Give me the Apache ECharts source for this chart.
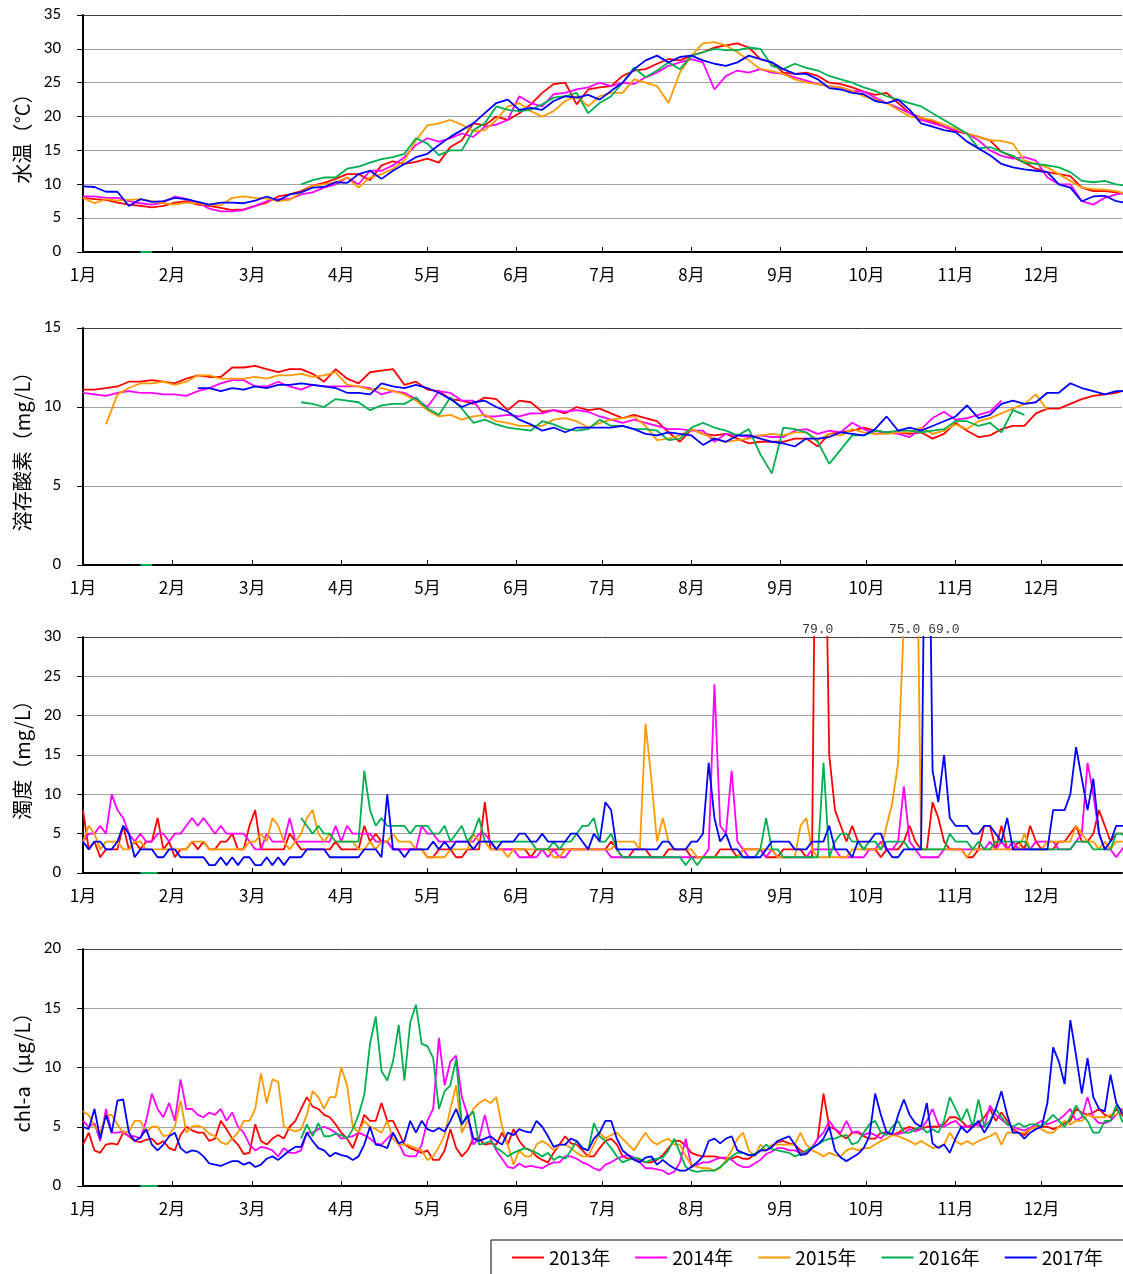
<!DOCTYPE html>
<html>
<head>
<meta charset="utf-8">
<script src="https://cdn.jsdelivr.net/npm/echarts@6/dist/echarts.min.js"></script>
<style>
html,body{margin:0;padding:0;background:#fff;}
#chart{width:1123px;height:1274px;}
</style>
</head>
<body>
<div id="chart"></div>
<script>
// ---- categories / ticks ----
const yearNames = ['2013年', '2014年', '2015年', '2016年', '2017年'];
const monthStartDays = [0, 31, 59, 90, 120, 151, 181, 212, 243, 273, 304, 334];
const monthLabels = ['1月', '2月', '3月', '4月', '5月', '6月', '7月', '8月', '9月', '10月', '11月', '12月'];

// day spacing of the samples in each table (day of year = index * step)
const tempStepDays = 4;
const doStepDays = 4;
const turbStepDays = 2;
const chlStepDays = 2;

// ---- 水温 (°C), every 4 days ----
const wt2013 = [8.0,7.8,7.7,7.3,7.0,6.8,6.6,6.8,7.3,7.5,7.0,6.8,6.5,6.2,6.3,6.8,
  7.3,8.2,8.5,9.0,9.8,10.2,10.8,11.5,11.5,10.6,12.8,13.4,13.0,13.3,13.8,13.2,
  15.5,16.5,19.0,18.7,20.0,19.5,20.5,21.8,23.5,24.8,25.0,21.8,24.0,24.3,24.5,26.0,
  26.8,27.0,27.8,28.5,28.3,29.0,29.5,30.2,30.5,30.8,30.2,28.5,28.0,26.5,26.3,26.5,
  26.0,25.0,24.8,24.3,23.7,23.2,23.5,22.0,20.5,19.8,19.3,18.5,17.8,17.5,17.0,16.5,
  14.8,14.0,13.2,12.3,11.8,11.5,11.2,9.5,9.0,9.0,8.8,8.5];
const wt2014 = [8.2,8.2,8.0,8.0,7.5,7.2,7.0,7.3,8.2,7.8,7.3,6.4,6.0,6.0,6.2,6.8,
  7.5,7.8,7.8,8.5,8.8,9.5,10.0,11.0,10.0,12.0,12.0,12.8,14.0,15.8,16.8,16.3,
  16.8,17.5,17.0,18.5,18.8,19.5,23.0,22.0,21.5,23.3,23.5,24.0,24.3,25.0,24.5,25.0,
  24.8,25.8,26.5,27.5,28.0,28.5,28.0,24.0,26.0,26.8,26.5,27.0,26.5,26.3,25.8,25.3,
  24.8,24.5,24.3,23.8,23.7,22.8,22.0,21.3,20.5,19.5,19.0,18.5,18.0,17.5,16.5,15.0,
  14.2,13.8,14.0,13.5,11.0,10.0,10.0,7.5,7.0,8.0,8.5,8.8];
const wt2015 = [8.0,7.2,7.8,7.6,7.7,7.8,7.5,7.2,7.0,7.3,7.2,7.0,6.9,8.0,8.2,8.0,
  7.9,7.5,7.7,8.8,9.8,10.0,10.3,11.0,9.5,11.0,11.5,12.3,13.5,16.5,18.7,19.0,
  19.5,18.8,17.8,18.0,19.5,21.5,22.0,20.8,20.0,20.8,22.3,23.0,21.5,23.0,23.5,23.5,
  25.5,25.0,24.5,22.0,26.5,29.0,30.8,31.0,30.5,29.5,28.3,27.0,26.7,26.3,25.5,25.0,
  24.8,24.5,24.3,23.8,23.0,22.5,22.0,21.0,20.0,19.8,19.5,18.8,18.2,17.5,17.0,16.5,
  16.4,16.0,13.5,13.0,12.5,11.5,10.5,9.5,9.3,9.2,9.0,8.5];
const wt2016 = [null,null,null,null,null,0,0,
  null,null,null,null,null,null,null,null,null,null,null,null,
  10.0,10.6,11.0,11.0,12.3,12.6,13.2,13.7,14.0,14.5,16.8,16.0,14.3,
  15.0,15.0,18.0,19.0,21.5,21.0,20.8,21.0,21.8,22.8,23.0,23.5,20.5,22.0,23.0,25.0,
  27.2,25.8,26.8,28.0,27.0,29.0,29.5,30.0,29.8,29.8,30.2,30.0,27.5,27.0,27.8,27.2,
  26.8,26.0,25.5,25.0,24.3,23.8,23.0,22.5,22.0,21.5,20.5,19.5,18.5,17.5,15.3,15.5,
  14.8,14.2,13.2,13.0,12.8,12.5,11.8,10.5,10.3,10.5,10.0,9.8];
const wt2017 = [9.7,9.6,8.9,8.9,6.8,7.8,7.4,7.5,8.0,7.8,7.4,7.0,7.3,7.3,7.2,7.6,
  8.2,7.6,8.5,8.8,9.5,9.6,10.3,10.2,11.5,12.0,10.8,12.0,13.0,14.0,14.5,15.8,
  17.0,18.0,19.0,20.5,22.0,22.5,21.0,21.3,21.0,22.3,23.0,22.8,23.2,22.5,23.8,25.0,
  27.0,28.3,29.0,28.0,28.8,29.0,28.3,27.8,27.5,28.0,29.0,28.5,28.0,27.0,26.3,26.3,
  25.5,24.2,24.0,23.5,23.3,22.3,22.0,22.5,21.0,19.0,18.5,18.0,17.7,16.3,15.3,14.3,
  13.0,12.5,12.2,12.0,11.8,10.0,9.5,7.5,8.2,8.3,7.5,7.2];

// ---- 溶存酸素 (mg/L), every 4 days ----
const do2013 = [11.1,11.1,11.2,11.3,11.6,11.6,11.7,11.6,11.5,11.8,12.0,11.9,11.9,12.5,12.5,12.6,
  12.4,12.2,12.4,12.4,12.1,11.6,12.4,11.8,11.5,12.2,12.3,12.4,11.4,11.6,11.1,11.0,
  10.5,10.4,10.2,10.6,10.5,9.8,10.4,10.3,9.7,9.8,9.6,10.0,9.8,9.9,9.6,9.3,
  9.5,9.3,9.1,8.4,7.8,8.6,8.3,8.2,8.3,8.0,7.7,7.8,7.8,7.8,8.0,8.0,
  7.5,8.3,8.4,8.5,8.7,8.5,8.4,8.4,8.3,8.4,8.0,8.3,9.0,8.5,8.1,8.2,
  8.6,8.8,8.8,9.6,9.9,9.9,10.2,10.5,10.7,10.8,10.9,11.1];
const do2014 = [10.9,10.8,10.7,10.9,11.0,10.9,10.9,10.8,10.8,10.7,11.0,11.2,11.5,11.7,11.7,11.3,
  11.3,11.6,11.3,11.1,11.4,11.3,11.3,11.3,11.3,11.2,10.8,11.0,10.9,10.5,10.0,11.0,
  10.9,10.4,10.4,9.4,9.4,9.5,9.4,9.6,9.6,9.8,9.7,9.8,9.7,9.4,9.2,9.0,
  9.2,9.0,8.8,8.6,8.6,8.5,8.5,7.8,8.3,8.2,8.1,8.2,8.1,8.1,8.5,8.6,
  8.3,8.5,8.4,9.0,8.6,8.3,8.4,8.3,8.1,8.6,9.3,9.7,9.2,9.3,9.5,9.7,
  10.4,null,null,null,null,null,null,null,null,null,null,null];
const do2015 = [null,null,8.9,10.8,11.2,11.5,11.5,11.6,11.4,11.6,12.0,12.0,11.8,11.8,11.8,11.9,
  11.8,12.0,12.0,12.1,11.9,12.0,12.2,11.4,11.3,11.1,11.2,11.0,10.8,10.4,9.8,9.4,
  9.5,9.2,9.4,9.5,9.1,9.0,8.8,8.8,8.8,9.2,9.3,9.1,8.7,9.0,9.2,9.3,
  9.4,8.8,7.9,8.0,8.2,8.6,8.3,8.0,7.8,7.9,8.0,8.2,8.3,8.2,8.4,8.4,
  7.9,8.3,8.2,8.6,8.4,8.3,8.3,8.4,8.4,8.7,8.3,8.5,8.9,8.6,9.1,9.3,
  9.6,9.9,10.2,10.8,9.8,null,null,null,null,null,null,null];
const do2016 = [null,null,null,null,null,0,0,
  null,null,null,null,null,null,null,null,null,null,null,null,
  10.3,10.2,10.0,10.5,10.4,10.3,9.8,10.1,10.2,10.2,10.6,9.9,9.5,
  10.6,9.9,9.0,9.2,8.9,8.7,8.6,8.5,9.1,8.9,8.6,8.5,8.6,9.2,8.8,8.8,
  8.6,8.6,8.5,7.9,8.0,8.7,9.0,8.7,8.5,8.2,8.6,7.0,5.8,8.7,8.6,8.4,
  7.8,6.4,7.3,8.2,8.2,8.5,8.4,8.5,8.5,8.4,8.5,8.6,9.1,9.1,8.8,9.0,
  8.4,9.8,9.5,null,null,null,null,null,null,null,null,null];
const do2017 = [null,null,null,null,null,null,null,null,null,null,
  11.2,11.2,11.0,11.2,11.1,11.3,
  11.2,11.4,11.4,11.5,11.4,11.3,11.2,10.9,10.9,10.8,11.5,11.3,11.2,11.4,11.2,10.9,
  10.5,10.0,10.3,10.4,10.0,9.7,9.2,8.9,8.5,8.7,8.4,8.7,8.7,8.7,8.7,8.8,
  8.6,8.3,8.2,8.4,8.3,8.2,7.6,8.0,7.8,8.2,8.2,8.0,7.8,7.7,7.5,8.0,
  8.0,8.1,8.4,8.3,8.2,8.6,9.4,8.5,8.7,8.5,8.8,9.1,9.4,10.1,9.3,9.5,
  10.2,10.4,10.2,10.3,10.9,10.9,11.5,11.2,11.0,10.8,11.0,11.0];

// ---- 濁度 (mg/L), every 2 days ----
const tb2013 = [8,3,4,2,3,3,3,6,3,4, 3,4,4,7,3,4,2,3,3,4, 3,4,3,3,4,4,5,3,3,6,
  8,3,3,3,3,3,5,4,3,3, 3,3,3,3,4,3,3,3,3,6, 4,5,4,4,3,3,3,3,3,3,
  2,2,3,3,3,2,2,3,3,3, 9,3,3,3,3,3,3,3,2,3, 3,3,3,3,3,3,3,3,3,3,
  3,3,4,3,2,2,3,3,3,2, 2,2,3,3,3,3,2,2,2,2, 2,3,3,3,2,3,3,3,3,2,
  2,2,3,3,3,3,2,2,79,60, 15,8,6,4,6,4,3,3,3,2, 3,3,3,4,6,4,3,3,9,7,
  4,3,3,3,2,2,3,6,6,3, 6,3,3,4,3,6,4,3,3,3, 4,4,5,6,4,4,5,8,6,4, 5,5,5];
const tb2014 = [4,5,5,6,5,10,8,7,5,4, 5,4,4,5,5,4,5,5,6,7, 6,7,6,5,6,5,5,5,5,4,
  3,3,5,4,4,4,7,4,4,4, 4,4,4,4,6,4,6,5,5,5, 5,4,4,4,3,3,3,3,3,6,
  5,5,4,4,4,4,4,4,4,5, 5,4,3,3,3,3,2,2,2,2, 3,2,3,2,2,3,3,3,3,3,
  3,3,2,2,2,2,2,2,2,2, 2,2,2,2,2,2,2,2,2,3, 24,6,5,13,4,3,2,2,3,2,
  3,2,2,2,2,2,2,3,3,3, 3,3,2,2,2,2,2,3,3,4, 3,3,4,11,4,3,2,2,2,2,
  3,3,3,3,3,3,3,3,4,3, 4,3,4,3,3,3,4,4,4,4, 3,3,3,4,5,14,10,5,3,3, 2,3,4];
const tb2015 = [4,6,5,3,4,4,4,3,3,4, 4,3,3,3,3,3,3,3,3,4, 4,4,3,3,3,3,3,3,3,4,
  4,5,4,7,6,4,3,4,5,7, 8,5,4,5,4,4,4,4,3,3, 4,3,4,4,5,4,4,4,3,3,
  2,2,2,2,3,3,3,3,5,4, 4,3,3,3,2,3,3,3,3,3, 3,3,2,2,3,3,3,3,3,3,
  3,3,3,4,4,4,4,3,19,12, 4,7,4,3,3,3,3,2,2,2, 2,2,2,2,2,3,3,3,3,3,
  3,2,2,2,2,6,7,3,2,2, 2,2,2,2,3,3,3,3,3,3, 6,9,14,32,75,60,3,3,3,3,
  3,3,3,3,2,3,3,3,3,3, 3,3,3,3,5,3,3,3,4,4, 4,4,4,6,5,4,4,3,4,3, 4,4,4];
const tb2016 = [null,null,null,null,null,null,null,null,null,null,
  0,0,0,0,null,null,null,null,null,null,
  null,null,null,null,null,null,null,null,null,null,
  null,null,null,null,null,null,null,null,7,6,
  5,6,5,5,4,4,4,4,4,13, 8,6,7,6,6,6,6,5,6,6,
  6,5,5,6,4,5,6,4,5,7, 4,4,4,4,4,4,4,4,4,3, 3,3,4,3,4,4,5,6,6,7,
  4,4,5,3,2,2,2,2,2,2, 2,2,2,2,2,1,2,1,2,2, 2,2,2,2,2,2,2,2,3,7,
  3,3,2,2,2,2,2,2,2,14, 2,4,5,5,4,4,3,4,4,3, 4,4,4,4,3,3,3,3,3,3,
  3,5,4,4,4,3,4,3,3,4, 4,4,4,4,4,3,3,3,3,3, 3,3,3,4,4,4,3,3,3,3, 5,5,4];
const tb2017 = [4,3,4,4,3,3,4,6,5,2, 3,3,3,2,2,3,3,2,2,2, 2,2,1,1,2,1,2,1,2,2,
  1,1,2,1,2,1,2,2,2,3, 3,3,3,2,2,2,2,2,2,3, 3,3,2,10,3,3,2,3,3,3,
  3,4,3,4,3,4,4,4,3,4, 4,4,3,4,4,4,5,5,4,4, 5,4,4,4,4,5,5,4,3,5,
  4,9,8,3,3,3,3,3,3,3, 3,4,4,3,3,3,4,4,5,14, 7,4,5,3,3,2,2,2,2,3,
  4,4,4,4,3,3,3,4,4,4, 6,3,3,3,2,4,4,4,5,5, 3,2,2,3,3,3,3,69,13,9,
  15,7,6,6,6,5,5,6,6,5, 4,7,3,3,3,3,3,3,3,8, 8,8,10,16,12,8,12,5,3,4, 6,6,6];

// ---- chl-a (μg/L), every 2 days ----
const ch2013 = [3.5,4.5,3.0,2.8,3.5,3.6,3.5,4.5,4.2,3.8, 3.7,3.9,4.0,3.5,3.8,3.2,3.0,4.3,5.0,4.7,
  4.5,4.5,3.8,4.0,5.5,4.8,4.0,3.5,2.7,2.8, 5.2,3.8,3.5,4.0,4.3,4.0,5.0,5.5,6.5,7.5,
  6.7,6.5,6.0,5.8,5.2,4.5,4.0,3.2,4.5,6.0, 5.5,5.5,7.0,5.5,5.5,4.5,3.5,3.2,3.0,2.8,
  3.0,2.2,2.2,3.0,4.8,3.2,2.5,3.0,4.0,4.0, 3.5,3.6,3.5,4.5,3.5,4.8,3.8,3.2,3.0,2.5,
  2.2,2.0,2.8,3.5,4.2,3.6,3.5,3.0,2.5,2.5, 3.2,3.8,4.0,3.5,2.5,2.3,2.3,2.2,2.0,2.0,
  2.2,2.6,3.2,3.8,3.8,3.4,2.8,2.6,2.5,2.5, 2.5,2.4,2.3,2.3,2.5,2.3,2.3,2.7,3.0,3.0,
  3.3,3.7,3.8,3.6,3.5,3.0,2.8,3.2,4.0,7.8, 5.0,4.8,4.3,4.0,4.5,4.5,4.2,4.0,4.0,4.5,
  4.5,4.3,4.5,4.8,5.0,4.8,4.8,5.0,5.0,5.0, 5.2,5.8,5.8,5.5,5.0,5.0,5.3,5.8,6.5,5.5,
  6.2,5.5,4.8,4.5,4.3,4.8,5.0,5.0,5.0,4.8, 5.0,5.3,5.5,6.5,6.2,6.0,6.2,6.5,6.0,5.8,
  6.5,6.0,5.5];
const ch2014 = [5.5,5.0,5.3,3.8,6.5,4.5,4.5,4.6,4.2,4.2, 4.0,5.5,7.8,6.5,5.8,7.0,5.5,9.0,6.5,6.5,
  6.0,5.8,6.2,6.0,6.5,5.5,6.2,5.0,4.5,3.5, 3.0,3.3,3.2,3.0,2.5,3.2,2.8,2.8,3.0,4.5,
  4.5,4.8,5.0,4.8,4.5,4.0,4.1,4.2,4.5,4.3, 4.0,3.6,3.5,4.0,4.5,3.6,2.6,2.5,2.5,3.5,
  5.5,6.5,12.5,8.5,10.5,11.0,7.5,6.0,3.5,4.0, 6.0,4.0,3.0,2.3,1.6,1.5,1.9,1.6,1.7,1.6,
  1.5,1.8,2.0,2.0,2.5,2.5,2.3,2.0,1.8,1.5, 1.3,1.8,2.0,2.3,2.5,2.6,2.4,2.0,1.5,1.5,
  1.4,1.3,1.0,1.2,2.0,4.0,1.6,1.8,2.0,2.0, 2.2,2.4,2.4,2.2,1.8,1.6,1.6,1.9,2.2,2.7,
  2.9,3.2,3.2,3.0,3.0,2.8,2.8,3.2,4.0,4.5, 5.5,4.8,4.5,5.5,4.5,4.6,4.3,4.5,4.3,4.0,
  4.6,4.3,4.4,4.5,4.8,4.6,4.8,5.5,6.5,5.2, 5.0,5.3,5.5,5.0,5.0,5.2,5.1,5.0,6.8,6.0,
  5.6,5.2,5.0,4.8,4.7,4.9,5.2,5.5,5.2,5.4, 5.6,6.0,6.5,5.5,5.8,7.5,5.8,5.3,5.3,5.5,
  6.0,6.5,6.0];
const ch2015 = [6.3,6.0,5.0,4.5,6.0,6.0,5.2,4.5,4.6,5.5, 5.5,4.5,5.0,5.0,4.2,4.3,5.0,7.2,4.5,5.0,
  5.1,4.9,4.4,4.2,3.7,3.5,4.0,4.5,5.5,5.5, 6.5,9.5,7.0,9.0,8.8,5.0,4.8,4.6,4.8,6.0,
  8.0,7.5,6.5,7.5,7.5,10.0,8.5,5.0,4.5,5.5, 5.0,4.8,4.5,5.5,4.0,3.5,3.5,3.4,3.2,3.0,
  2.2,2.5,3.3,4.3,6.5,8.5,4.5,5.5,6.5,7.0, 7.3,7.0,7.5,5.0,3.5,1.8,3.0,2.5,2.5,3.5,
  3.8,3.5,3.0,3.5,3.5,3.2,2.8,2.5,2.5,3.5, 4.5,4.0,4.3,4.5,4.0,3.5,3.0,3.8,4.5,3.8,
  3.5,3.8,4.0,3.5,3.5,2.5,1.8,1.6,1.5,1.5, 1.3,1.5,2.2,3.0,4.0,4.5,3.0,2.5,3.5,3.0,
  3.5,3.5,3.5,3.5,3.5,4.5,3.5,3.0,2.8,2.5, 2.8,2.6,2.5,3.0,3.2,3.0,3.2,3.2,3.5,3.8,
  4.0,4.3,4.2,4.0,3.8,3.5,3.8,3.5,3.2,3.3, 3.5,4.5,3.8,3.5,3.8,3.5,3.8,4.0,4.2,4.5,
  3.5,4.5,4.5,4.5,4.5,4.8,5.0,4.8,4.5,4.5, 5.0,5.5,5.2,5.5,5.5,6.0,5.8,5.8,5.8,6.0,
  6.0,6.5,6.0];
const ch2016 = [null,null,null,null,null,null,null,null,null,null,
  0,0,0,0,null,null,null,null,null,null,
  null,null,null,null,null,null,null,null,null,null,
  null,null,null,null,null,null,null,null,4.0,5.2,
  4.2,5.3,4.2,4.2,4.4,4.3,4.0,4.8,6.0,7.7, 12.0,14.3,9.7,8.9,10.5,13.6,8.9,13.8,15.3,12.0,
  11.8,10.8,6.5,8.0,8.5,10.7,5.2,5.8,6.3,3.5, 3.6,3.8,3.2,2.9,2.5,2.8,3.0,3.2,3.0,2.8,
  2.5,2.8,2.2,2.5,2.3,3.0,3.8,3.2,3.0,5.3, 4.2,3.8,3.2,2.5,2.0,2.2,2.4,2.3,2.0,2.2,
  2.3,2.4,3.0,4.0,2.8,1.6,1.3,1.2,1.3,1.3, 1.3,1.6,2.0,2.5,2.8,2.8,2.6,2.7,3.0,3.5,
  3.1,3.0,2.9,2.8,2.5,2.7,3.0,3.3,3.5,3.8, 4.0,4.0,4.2,4.3,3.5,3.7,4.5,5.2,5.5,4.5,
  4.3,5.0,5.5,4.5,4.5,4.8,5.0,4.5,4.8,4.5, 5.5,7.5,6.5,5.5,6.5,5.0,7.3,5.0,5.5,6.5,
  5.8,5.2,5.0,5.3,5.0,5.2,5.2,5.0,5.5,6.0, 5.5,5.0,5.8,6.8,6.0,5.5,4.5,4.5,5.5,5.5,
  6.8,5.5,5.0];
const ch2017 = [5.0,4.8,6.5,4.0,6.0,4.5,7.2,7.3,4.5,3.8, 4.1,4.8,3.5,3.0,3.5,4.2,4.5,3.2,2.8,3.0,
  2.9,2.5,1.9,1.8,1.7,1.9,2.1,2.1,1.8,2.0, 1.6,1.8,2.3,2.5,2.2,2.6,3.0,3.3,3.3,4.5,
  3.8,3.2,3.0,2.5,2.8,2.6,2.5,2.2,2.5,3.5, 5.0,3.5,3.4,3.2,4.5,3.6,3.8,5.5,4.5,5.5,
  4.8,4.6,4.9,4.6,5.5,6.5,5.2,6.0,4.0,3.8, 4.0,4.2,3.8,3.5,4.5,4.3,4.8,4.6,4.5,5.5,
  5.0,4.2,3.3,3.5,3.5,4.0,3.8,3.2,3.0,4.0, 4.5,5.5,5.5,4.0,3.0,2.6,2.2,2.0,2.4,2.5,
  1.8,2.2,1.8,1.5,1.3,1.3,1.6,2.0,2.5,3.8, 4.0,3.6,4.0,4.2,3.0,2.8,2.6,2.6,3.0,3.0,
  3.3,3.8,4.0,4.2,3.5,2.6,2.7,3.2,3.5,4.0, 5.0,3.0,2.4,2.1,2.4,2.7,3.2,4.2,7.8,6.0,
  4.5,4.4,6.0,7.3,6.0,5.3,5.0,7.0,3.6,3.2, 3.5,2.8,4.0,5.0,4.5,5.0,5.5,4.5,5.3,6.5,
  8.0,6.0,4.5,4.5,4.0,4.5,4.8,5.0,7.0,11.7, 10.5,8.6,14.0,11.0,7.8,10.8,7.5,6.5,6.3,9.4,
  7.0,6.2,6.0];

// ---- drawing ----
const lineColors = ['#FF0000', '#FF00FF', '#FF9900', '#00B050', '#0000FF'];
const dayMax = 362;

const panels = [
  { title: '水温（°C）', yMax: 35, step: tempStepDays, tables: [wt2013, wt2014, wt2015, wt2016, wt2017], top: 15, height: 237 },
  { title: '溶存酸素（mg/L）', yMax: 15, step: doStepDays, tables: [do2013, do2014, do2015, do2016, do2017], top: 328, height: 237 },
  { title: '濁度（mg/L）', yMax: 30, step: turbStepDays, tables: [tb2013, tb2014, tb2015, tb2016, tb2017], top: 637, height: 236 },
  { title: 'chl-a（μg/L）', yMax: 20, step: chlStepDays, tables: [ch2013, ch2014, ch2015, ch2016, ch2017], top: 949, height: 237 }
];

function toPoints(values, step) {
  return values.map((v, i) => [i * step, v === null ? '-' : v]);
}

const numFont = 'Carlito, "Noto Sans", "Liberation Sans", sans-serif';
const jpFont = '"Noto Sans CJK JP", "Noto Sans", sans-serif';

const grids = [], xAxes = [], yAxes = [], series = [];
panels.forEach((p, gi) => {
  grids.push({ left: 83, right: 1, top: p.top, height: p.height });
  xAxes.push({
    type: 'value', gridIndex: gi, min: 0, max: dayMax,
    axisLine: { show: true, onZero: false, lineStyle: { color: '#000', width: 2 } },
    axisTick: { show: true, inside: true, length: 5, customValues: monthStartDays, lineStyle: { color: '#000', width: 1 } },
    axisLabel: {
      customValues: monthStartDays,
      formatter: v => monthLabels[monthStartDays.indexOf(v)],
      fontSize: 17, color: '#000', fontFamily: jpFont, margin: 14
    },
    splitLine: { show: false }
  });
  const nLines = p.yMax / 5 + 1;
  const gridColors = Array.from({ length: nLines }, (_, k) => (k === nLines - 1 ? '#404040' : '#a0a0a0'));
  yAxes.push({
    type: 'value', gridIndex: gi, min: 0, max: p.yMax, interval: 5,
    name: p.title, nameLocation: 'middle', nameRotate: 90, nameGap: 50,
    nameTextStyle: { fontSize: 20, color: '#000', fontFamily: jpFont },
    axisLine: { show: true, lineStyle: { color: '#000', width: 2 } },
    axisTick: { show: true, length: 6, lineStyle: { color: '#000', width: 1 } },
    axisLabel: { fontSize: 17, color: '#000', fontFamily: numFont, margin: 22 },
    splitLine: { show: true, lineStyle: { color: gridColors, width: 1 } }
  });
  p.tables.forEach((tbl, si) => {
    series.push({
      name: yearNames[si], type: 'line', xAxisIndex: gi, yAxisIndex: gi,
      data: toPoints(tbl, p.step),
      symbol: 'none', showSymbol: false, connectNulls: false,
      color: lineColors[si],
      lineStyle: { color: lineColors[si], width: 1.8 },
      emphasis: { disabled: true }, silent: true
    });
  });
});

// value labels for turbidity peaks that run past the top of the axis
const turbPanel = panels[2];
const peakLabelShift = [0, -5, 17];
const peakData = [];
turbPanel.tables.forEach((tbl, si) => {
  const peak = Math.max(...tbl.filter(v => v !== null));
  if (peak > turbPanel.yMax) {
    const day = tbl.indexOf(peak) * turbPanel.step;
    peakData.push({ value: [day, turbPanel.yMax, peak], label: { offset: [peakLabelShift[peakData.length], 0] } });
  }
});
series.push({
  name: 'peak', type: 'scatter', xAxisIndex: 2, yAxisIndex: 2, symbolSize: 0, silent: true,
  data: peakData, z: 10,
  label: {
    show: true, position: 'top', distance: 1,
    formatter: pr => pr.value[2].toFixed(1),
    fontFamily: '"Liberation Mono", "DejaVu Sans Mono", monospace', fontSize: 13, color: '#000'
  }
});

const chart = echarts.init(document.getElementById('chart'), null, { renderer: 'canvas' });
chart.setOption({
  animation: false,
  backgroundColor: '#fff',
  grid: grids, xAxis: xAxes, yAxis: yAxes, series: series,
  legend: {
    data: yearNames.map(n => ({ name: n, icon: 'rect' })),
    left: 491, top: 1240, width: 900, orient: 'horizontal',
    borderColor: '#000', borderWidth: 1, padding: [8, 40, 12, 21],
    itemGap: 25, itemWidth: 32, itemHeight: 2,
    textStyle: { fontSize: 19, color: '#000', fontFamily: jpFont },
    selectedMode: false
  }
});
</script>
</body>
</html>
